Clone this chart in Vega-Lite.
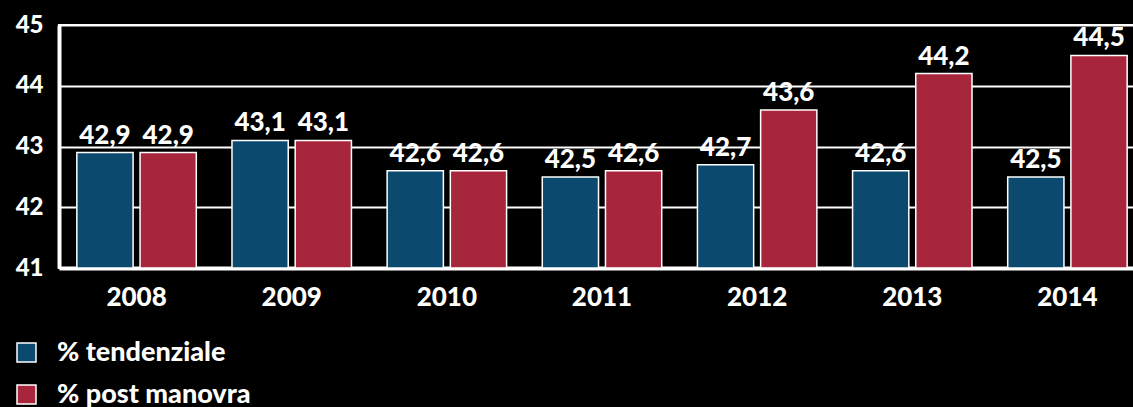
{
  "$schema": "https://vega.github.io/schema/vega-lite/v6.json",
  "autosize": "none",
  "width": 1086,
  "height": 243,
  "padding": {"left": 59, "top": 25, "right": 0, "bottom": 139},
  "background": "#000000",
  "config": {
    "locale": {"number": {"decimal": ",", "thousands": ".", "grouping": [3], "currency": ["€", ""]}},
    "view": {"stroke": "#ffffff", "strokeWidth": 2},
    "font": "Lato"
  },
  "data": {
    "values": [
      {"anno": "2008", "serie": "% tendenziale", "valore": 42.9},
      {"anno": "2008", "serie": "% post manovra", "valore": 42.9},
      {"anno": "2009", "serie": "% tendenziale", "valore": 43.1},
      {"anno": "2009", "serie": "% post manovra", "valore": 43.1},
      {"anno": "2010", "serie": "% tendenziale", "valore": 42.6},
      {"anno": "2010", "serie": "% post manovra", "valore": 42.6},
      {"anno": "2011", "serie": "% tendenziale", "valore": 42.5},
      {"anno": "2011", "serie": "% post manovra", "valore": 42.6},
      {"anno": "2012", "serie": "% tendenziale", "valore": 42.7},
      {"anno": "2012", "serie": "% post manovra", "valore": 43.6},
      {"anno": "2013", "serie": "% tendenziale", "valore": 42.6},
      {"anno": "2013", "serie": "% post manovra", "valore": 44.2},
      {"anno": "2014", "serie": "% tendenziale", "valore": 42.5},
      {"anno": "2014", "serie": "% post manovra", "valore": 44.5}
    ]
  },
  "encoding": {
    "x": {
      "field": "anno", "type": "nominal",
      "scale": {"paddingInner": 0.23, "paddingOuter": 0.115},
      "axis": {
        "title": null, "labelAngle": 0, "labelColor": "#ffffff", "labelFont": "Lato",
        "labelFontWeight": 900, "labelFontSize": 26, "labelPadding": 16,
        "ticks": false, "domainColor": "#ffffff", "domainWidth": 4
      }
    },
    "xOffset": {"field": "serie", "type": "nominal", "sort": ["% tendenziale", "% post manovra"], "scale": {"paddingInner": 0.11}},
    "y": {
      "field": "valore", "type": "quantitative",
      "scale": {"domain": [41, 45], "nice": false, "zero": false},
      "axis": {
        "title": null, "values": [41, 42, 43, 44, 45], "format": "d",
        "labelColor": "#ffffff", "labelFont": "Lato", "labelFontWeight": 900, "labelFontSize": 24,
        "labelPadding": 16, "ticks": false, "domainColor": "#ffffff", "domainWidth": 4,
        "gridColor": "#ffffff", "gridWidth": 2, "gridOpacity": 1
      }
    }
  },
  "layer": [
    {
      "mark": {"type": "bar", "stroke": "#ffffff", "strokeWidth": 1.5},
      "encoding": {
        "y2": {"datum": 41},
        "color": {
          "field": "serie", "type": "nominal", "sort": ["% tendenziale", "% post manovra"],
          "scale": {"domain": ["% tendenziale", "% post manovra"], "range": ["#0b4a6e", "#a8263c"]},
          "legend": {
            "title": null, "orient": "none", "legendX": -46, "legendY": 314,
            "symbolType": "square", "symbolSize": 361, "symbolStrokeColor": "#ffffff",
            "symbolStrokeWidth": 1.5, "symbolOpacity": 1,
            "labelColor": "#ffffff", "labelFont": "Lato", "labelFontWeight": 900, "labelFontSize": 27,
            "labelOffset": 17, "rowPadding": 14, "labelLimit": 400
          }
        }
      }
    },
    {
      "mark": {"type": "text", "color": "#ffffff", "font": "Lato", "fontWeight": 900, "fontSize": 26, "baseline": "alphabetic", "dy": -9},
      "encoding": {
        "text": {"field": "valore", "type": "quantitative", "format": ".1f"}
      }
    }
  ]
}
